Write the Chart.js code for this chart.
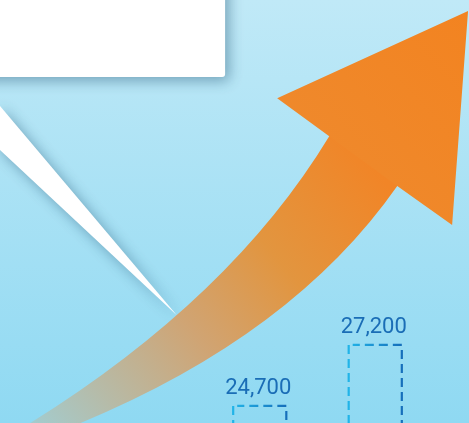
<!DOCTYPE html>
<html>
<head>
<meta charset="utf-8">
<script src="https://cdn.jsdelivr.net/npm/chart.js@4.4.0/dist/chart.umd.min.js"></script>
<style>
  html, body { margin: 0; padding: 0; background: #a8e2f4; overflow: hidden; }
  #wrap { width: 469px; height: 423px; }
</style>
</head>
<body>
<div id="wrap"><canvas id="growthChart" width="469" height="423"></canvas></div>
<script>
// 막대 데이터
const categories = ['Before', 'After'];
const values = [24700, 27200];
const valueLabels = ['24,700', '27,200'];

// 세로축 범위 (막대 아래쪽은 잘려 있음)
const axisMin = 24000;
const axisMax = 41340;

// 배경, 말풍선, 화살표
const backdropPlugin = {
    id: 'backdrop',
    beforeDraw(chart) {
        const ctx = chart.ctx;
        const w = chart.width;
        const h = chart.height;
        ctx.save();

        // 배경 그라데이션
        const bg = ctx.createLinearGradient(0, 0, 0, h);
        bg.addColorStop(0, '#c0e9f7');
        bg.addColorStop(1, '#8fd9f2');
        ctx.fillStyle = bg;
        ctx.fillRect(0, 0, w, h);

        // 말풍선
        ctx.save();
        ctx.shadowColor = 'rgba(30, 80, 110, 0.45)';
        ctx.shadowBlur = 14;
        ctx.shadowOffsetX = 4;
        ctx.shadowOffsetY = 4;
        ctx.fillStyle = '#ffffff';
        ctx.beginPath();
        ctx.moveTo(-20, -20);
        ctx.lineTo(w * 0.48, -20);
        ctx.lineTo(w * 0.48, h * 0.182 - 3);
        ctx.quadraticCurveTo(w * 0.48, h * 0.182, w * 0.48 - 3, h * 0.182);
        ctx.lineTo(-20, h * 0.182);
        ctx.closePath();
        ctx.fill();

        // 말풍선 꼬리
        ctx.beginPath();
        ctx.moveTo(-2, h * 0.245);
        ctx.lineTo(w * 0.377, h * 0.745);
        ctx.lineTo(-2, h * 0.35);
        ctx.closePath();
        ctx.fill();
        ctx.restore();

        // 화살표 몸통 (머리 안쪽까지 겹치게 그려서 이음새 제거)
        const body = ctx.createLinearGradient(w * 0.77, h * 0.36, w * 0.04, h * 1.02);
        body.addColorStop(0, '#f18527');
        body.addColorStop(0.3, '#e2953f');
        body.addColorStop(0.55, '#d0a473');
        body.addColorStop(0.8, '#b6bba8');
        body.addColorStop(1, '#9fcfd6');
        ctx.fillStyle = body;
        ctx.beginPath();
        ctx.moveTo(w * 0.702, h * 0.322);
        ctx.quadraticCurveTo(w * 0.49, h * 0.71, w * 0.05, h * 1.01);
        ctx.lineTo(w * 0.15, h * 1.01);
        ctx.quadraticCurveTo(w * 0.62, h * 0.80, w * 0.847, h * 0.44);
        ctx.lineTo(w * 0.88, h * 0.34);
        ctx.lineTo(w * 0.76, h * 0.26);
        ctx.closePath();
        ctx.fill();

        // 화살표 머리
        const head = ctx.createLinearGradient(w * 0.6, h * 0.4, w, 0);
        head.addColorStop(0, '#ee8a2e');
        head.addColorStop(1, '#f38320');
        ctx.fillStyle = head;
        ctx.beginPath();
        ctx.moveTo(w * 0.998, h * 0.026);
        ctx.lineTo(w * 0.591, h * 0.232);
        ctx.lineTo(w * 0.702, h * 0.322);
        ctx.lineTo(w * 0.847, h * 0.44);
        ctx.lineTo(w * 0.964, h * 0.532);
        ctx.closePath();
        ctx.fill();

        ctx.restore();
    }
};

// 점선 막대 테두리와 값 라벨
const dashedBarsPlugin = {
    id: 'dashedBars',
    afterDatasetsDraw(chart) {
        const ctx = chart.ctx;
        const meta = chart.getDatasetMeta(0);
        meta.data.forEach((bar, i) => {
            const p = bar.getProps(['x', 'y', 'base', 'width'], true);
            const left = p.x - p.width / 2;
            const right = p.x + p.width / 2;
            const top = p.y;
            const bottom = Math.min(p.base, chart.height + 10);

            ctx.save();
            const grad = ctx.createLinearGradient(left, 0, right, 0);
            grad.addColorStop(0, '#21b4e8');
            grad.addColorStop(1, '#166fbb');
            ctx.strokeStyle = grad;
            ctx.lineWidth = 2.2;
            ctx.setLineDash([9, 5]);

            ctx.beginPath();
            ctx.moveTo(left, top);
            ctx.lineTo(left, bottom);
            ctx.stroke();

            ctx.lineDashOffset = -((right - left - 4) % 14) + 9;
            ctx.beginPath();
            ctx.moveTo(left + 4, top);
            ctx.lineTo(right, top);
            ctx.lineTo(right, bottom);
            ctx.stroke();
            ctx.restore();

            ctx.save();
            ctx.fillStyle = '#1a6db6';
            ctx.font = '22px Roboto';
            ctx.textAlign = 'center';
            ctx.textBaseline = 'alphabetic';
            ctx.fillText(valueLabels[i], p.x - 1.5, top - 12);
            ctx.restore();
        });
    }
};

const ctx = document.getElementById('growthChart').getContext('2d');
window.growthChart = new Chart(ctx, {
    type: 'bar',
    data: {
        labels: categories,
        datasets: [{
            data: values,
            backgroundColor: 'rgba(0, 0, 0, 0)',
            borderWidth: 0,
            categoryPercentage: 1,
            barPercentage: 0.46
        }]
    },
    options: {
        responsive: false,
        animation: false,
        layout: { padding: { left: 202, right: 36, top: 0, bottom: 0 } },
        plugins: {
            legend: { display: false },
            tooltip: { enabled: false }
        },
        scales: {
            x: { display: false },
            y: { display: false, beginAtZero: false, min: axisMin, max: axisMax }
        }
    },
    plugins: [backdropPlugin, dashedBarsPlugin]
});
</script>
</body>
</html>
